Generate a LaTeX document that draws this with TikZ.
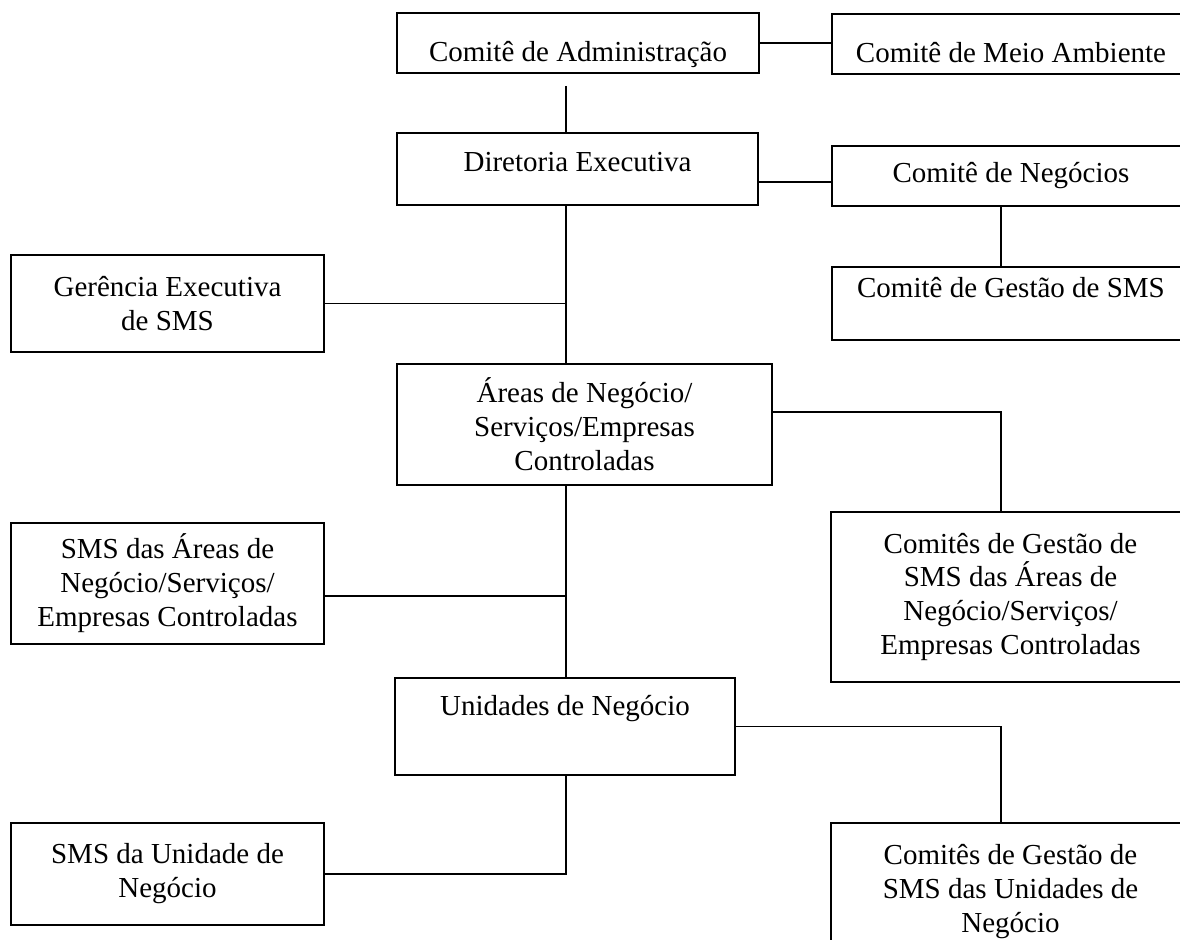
\documentclass[tikz,border=0pt]{standalone}
\usepackage{fontspec}
\setmainfont{Liberation Serif}
\tikzset{
  box/.style={draw,line width=0.9pt,align=center,inner sep=2pt,font=\fontsize{14.5pt}{17pt}\selectfont},
  oneline/.style 2 args={text height=#1,text depth=#2},
  link/.style={line width=0.9pt}
}
\begin{document}
\begin{tikzpicture}[x=0.5pt,y=-0.5pt]

\useasboundingbox (0,0) rectangle (1180,940);
\clip (0,0) rectangle (1180,940);

\coordinate (spine)		at (566,0);
\coordinate (rspine)		at (1001,0);
\coordinate (neg_link)		at (0,182);
\coordinate (areas_link)	at (0,412);
\coordinate (smsa_link)		at (0,596);

\node (comite_adm)	at (578,43)	[box,minimum width=181pt,minimum height=30pt,oneline={21.6pt}{3pt}] {Comitê de Administração};
\node (comite_meio)	at (1011,44)	[box,minimum width=179pt,minimum height=30pt,oneline={21.6pt}{3pt}] {Comitê de Meio Ambiente};
\node (diretoria)	at (577.5,169)	[box,minimum width=180.5pt,minimum height=36pt,oneline={10pt}{7.4pt}] {Diretoria Executiva};
\node (comite_neg)	at (1011,176)	[box,minimum width=179pt,minimum height=30pt,oneline={10pt}{3pt}] {Comitê de Negócios};
\node (comite_sms)	at (1011,303.5)	[box,minimum width=179pt,minimum height=36.5pt,oneline={10pt}{16.4pt}] {Comitê de Gestão de SMS};
\node (gerencia_sms)	at (167.5,303.5)	[box,minimum width=156.5pt,minimum height=48.5pt] {Gerência Executiva\\de SMS};
\node (areas)		at (584.5,424.5)	[box,minimum width=187.5pt,minimum height=60.5pt] {Áreas de Negócio/\\Serviços/Empresas\\Controladas};
\node (sms_areas)	at (167.5,583.5)	[box,minimum width=156.5pt,minimum height=60.5pt] {SMS das Áreas de\\Negócio/Serviços/\\Empresas Controladas};
\node (comites_areas)	at (1010.5,597)	[box,minimum width=179.5pt,minimum height=85pt] {Comitês de Gestão de\\SMS das Áreas de\\Negócio/Serviços/\\Empresas Controladas};
\node (unidades)	at (565,726.5)	[box,minimum width=170pt,minimum height=48.5pt,oneline={10pt}{21.4pt}] {Unidades de Negócio};
\node (sms_unidade)	at (167.5,874)	[box,minimum width=156.5pt,minimum height=51pt] {SMS da Unidade de\\Negócio};
\node (comites_unidades)	at (1010.5,891.5)	[box,minimum width=179.5pt,minimum height=68.5pt] {Comitês de Gestão de\\SMS das Unidades de\\Negócio};

\draw [link] (comite_adm.east) -- (comite_meio.west |- comite_adm.east);
\draw [link] (comite_adm.south -| spine) ++(0,12) -- (diretoria.north -| spine);
\draw [link] (diretoria.east |- neg_link) -- (comite_neg.west |- neg_link);
\draw [link] (comite_neg.south -| rspine) -- (comite_sms.north -| rspine);
\draw [link] (diretoria.south -| spine) -- (areas.north -| spine);
\draw [link] (gerencia_sms.east) -- (gerencia_sms.east -| spine);
\draw [link] (areas.east |- areas_link) -| (comites_areas.north -| rspine);
\draw [link] (areas.south -| spine) -- (unidades.north -| spine);
\draw [link] (sms_areas.east |- smsa_link) -- (spine |- smsa_link);
\draw [link] (unidades.east) -| (comites_unidades.north -| rspine);
\draw [link] (unidades.south -| spine) |- (sms_unidade.east);

\end{tikzpicture}
\end{document}
